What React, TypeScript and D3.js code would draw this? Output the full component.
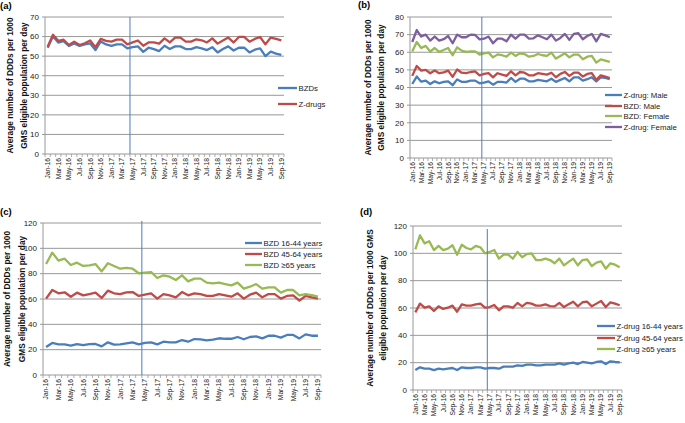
import React from "react";
import * as d3 from "d3";

const months = [
  "Jan-16","Feb-16","Mar-16","Apr-16","May-16","Jun-16","Jul-16","Aug-16","Sep-16","Oct-16","Nov-16","Dec-16",
  "Jan-17","Feb-17","Mar-17","Apr-17","May-17","Jun-17","Jul-17","Aug-17","Sep-17","Oct-17","Nov-17","Dec-17",
  "Jan-18","Feb-18","Mar-18","Apr-18","May-18","Jun-18","Jul-18","Aug-18","Sep-18","Oct-18","Nov-18","Dec-18",
  "Jan-19","Feb-19","Mar-19","Apr-19","May-19","Jun-19","Jul-19","Aug-19","Sep-19",
];
const interventionMonth = "May-17";

// Panel (a)
const aBZDs = [54.3,60.2,56.9,57.7,55.2,56.5,55.2,56.0,56.5,53.1,57.5,56.0,55.2,56.0,56.0,54.0,54.6,55.0,52.2,54.3,53.6,52.6,55.3,53.6,55.0,55.0,53.6,53.6,54.6,54.0,53.1,54.6,51.9,53.6,55.0,52.9,54.3,54.3,51.9,53.3,54.0,50.0,52.3,51.3,50.6];
const aZdrugs = [54.8,60.9,57.8,58.4,55.7,57.4,55.7,56.6,58.0,54.6,58.8,57.8,57.4,58.4,58.4,56.0,57.0,58.0,55.3,57.0,57.0,56.4,59.1,57.0,59.5,59.5,57.4,57.4,58.6,58.1,57.0,59.1,56.4,58.0,59.5,57.0,59.8,59.8,57.4,58.8,59.8,56.0,59.5,58.8,58.1];

// Panel (b)
const bZMale = [42.0,46.2,43.3,43.9,42.0,43.5,42.4,43.2,43.5,41.3,44.6,43.2,43.2,43.9,43.9,42.4,42.8,43.5,41.6,43.2,43.2,42.8,45.4,43.2,45.0,45.0,43.5,43.5,44.3,43.9,43.5,45.0,43.2,44.3,45.4,43.5,45.8,45.8,43.9,44.7,45.8,43.5,45.8,45.4,44.7];
const bBMale = [46.6,52.2,49.6,50.0,48.1,49.6,48.1,48.6,49.6,46.0,50.2,48.4,48.1,48.8,49.2,46.9,47.7,48.1,45.8,48.1,47.3,46.6,49.2,46.9,48.8,48.4,46.9,46.9,48.1,47.7,47.3,48.4,45.8,47.7,48.8,46.6,48.4,48.4,46.2,47.7,48.1,44.3,46.9,46.2,45.4];
const bBFemale = [60.4,65.8,62.4,63.6,60.4,62.4,60.2,61.3,62.4,58.3,62.8,60.9,60.2,60.5,60.5,58.7,59.4,59.8,57.1,58.8,58.3,57.5,59.8,57.9,59.4,59.0,57.5,57.9,59.0,58.3,57.9,59.8,56.4,57.9,59.4,57.1,58.7,58.7,56.0,57.5,57.9,54.1,56.0,55.3,54.5];
const bZFemale = [65.8,72.6,68.9,70.0,66.6,68.9,66.6,67.4,69.2,65.1,70.0,68.5,68.5,70.0,69.8,67.3,67.7,68.9,65.1,67.7,67.7,66.2,70.0,67.7,70.0,70.0,67.7,67.9,69.6,68.5,67.4,70.0,66.6,68.1,70.4,67.0,70.4,70.8,67.4,69.2,70.4,66.2,70.4,69.6,68.5];

// Panel (c)
const cB1644 = [22.1,25.3,24.2,24.2,23.2,24.4,23.5,24.4,24.5,22.6,25.8,24.0,24.2,25.0,25.8,24.2,25.3,25.8,24.2,26.3,25.8,25.8,27.6,26.3,28.4,28.2,27.4,27.9,29.0,28.6,28.6,30.0,28.2,30.0,30.5,28.9,31.0,31.0,29.5,31.6,31.6,28.9,32.1,31.0,31.0];
const cB4564 = [60.3,67.1,64.5,65.3,61.8,65.0,62.9,63.9,65.0,60.8,66.6,64.5,63.9,65.3,65.5,62.4,63.4,64.5,60.3,63.9,62.9,61.3,65.5,62.9,64.5,63.9,62.4,62.4,63.9,62.9,61.8,64.5,60.3,63.4,65.0,61.3,63.9,63.9,60.3,62.4,62.9,58.7,62.4,61.3,60.3];
const cB65 = [87.6,96.6,90.3,91.8,86.8,88.7,86.1,86.6,87.6,81.8,88.2,86.1,83.9,84.5,83.9,80.3,80.8,81.3,76.6,78.7,77.6,75.0,78.7,73.9,76.1,76.1,72.9,72.4,72.9,71.8,70.8,72.9,68.2,69.7,71.8,68.2,69.2,69.2,65.0,67.1,67.1,62.9,63.8,63.0,61.8];

// Panel (d)
const dZ1644 = [14.6,16.6,15.6,15.6,14.6,15.6,15.1,15.6,16.1,14.6,16.6,16.1,16.1,16.6,16.6,15.6,16.1,16.1,15.6,17.1,17.1,17.1,18.0,17.6,18.5,18.5,18.0,18.0,18.5,18.5,18.5,19.5,18.5,19.5,20.0,19.0,20.5,20.0,19.5,20.5,21.0,19.0,21.0,20.5,20.3];
const dZ4564 = [56.8,63.2,60.2,61.2,57.8,61.2,59.3,60.2,61.7,57.3,62.7,61.7,61.7,62.7,63.2,60.2,60.7,62.2,58.3,61.2,61.2,60.2,63.7,61.2,63.7,63.2,61.7,61.7,62.7,61.4,61.2,63.7,60.7,62.7,64.6,61.2,64.2,64.6,61.2,63.2,65.1,60.7,64.1,63.2,62.0];
const dZ65 = [102.9,113.2,107.3,108.8,102.4,105.4,102.4,103.4,105.9,99.0,106.3,103.9,102.9,105.4,104.4,100.0,101.0,102.4,96.1,99.0,99.0,96.1,101.0,97.1,99.5,100.0,95.1,95.1,96.1,95.1,92.7,96.1,91.2,93.7,96.1,91.2,95.1,95.6,90.7,93.2,94.1,88.8,92.7,91.7,89.8];

const BLUE = "#4A7EBB";
const RED = "#BE4B48";
const GREEN = "#98B954";
const PURPLE = "#7D5FA0";

type Series = { name: string; values: number[]; color: string };

type PanelCfg = {
  label: string;
  labelX: number;
  labelY: number;
  left: number;
  right: number;
  top: number;
  bottom: number;
  yMax: number;
  yStep: number;
  vTop: number;
  titleLines: string[];
  titleX: number[];
  series: Series[];
  legendX: number;
  legendY: number[];
  legendLineW: number;
};

const panels: PanelCfg[] = [
  {
    label: "(a)", labelX: 0, labelY: 9,
    left: 45, right: 284, top: 17, bottom: 154, yMax: 70, yStep: 10, vTop: 17,
    titleLines: ["Average number of DDDs per 1000", "GMS eligible population per day"],
    titleX: [10, 24.5],
    series: [
      { name: "BZDs", values: aBZDs, color: BLUE },
      { name: "Z-drugs", values: aZdrugs, color: RED },
    ],
    legendX: 278, legendY: [88, 104], legendLineW: 19,
  },
  {
    label: "(b)", labelX: 358, labelY: 8,
    left: 410, right: 612, top: 17, bottom: 158, yMax: 80, yStep: 10, vTop: 17,
    titleLines: ["Average number of DDDs per 1000", "GMS eligible population per day"],
    titleX: [368, 381],
    series: [
      { name: "Z-drug: Male", values: bZMale, color: BLUE },
      { name: "BZD: Male", values: bBMale, color: RED },
      { name: "BZD: Female", values: bBFemale, color: GREEN },
      { name: "Z-drug: Female", values: bZFemale, color: PURPLE },
    ],
    legendX: 605, legendY: [95, 106, 116, 127], legendLineW: 17,
  },
  {
    label: "(c)", labelX: 0, labelY: 215,
    left: 43, right: 321, top: 223, bottom: 375, yMax: 120, yStep: 20, vTop: 221,
    titleLines: ["Average number of DDDs per 1000", "GMS eligible population per day"],
    titleX: [7, 22],
    series: [
      { name: "BZD 16-44 years", values: cB1644, color: BLUE },
      { name: "BZD 45-64 years", values: cB4564, color: RED },
      { name: "BZD \u226565 years", values: cB65, color: GREEN },
    ],
    legendX: 245, legendY: [243, 254, 265], legendLineW: 17,
  },
  {
    label: "(d)", labelX: 360, labelY: 215,
    left: 413, right: 622, top: 226, bottom: 390, yMax: 120, yStep: 20, vTop: 229,
    titleLines: ["Average number of DDDs per 1000 GMS", "eligible population per day"],
    titleX: [370, 383],
    series: [
      { name: "Z-drug 16-44 years", values: dZ1644, color: BLUE },
      { name: "Z-drug 45-64 years", values: dZ4564, color: RED },
      { name: "Z-drug \u226565 years", values: dZ65, color: GREEN },
    ],
    legendX: 597, legendY: [326, 338, 349], legendLineW: 18,
  },
];

const FONT = "'Liberation Sans', Arial, sans-serif";
const GRID = "#989898";

function Panel({ p }: { p: PanelCfg }) {
  const x = d3.scaleBand<string>().domain(months).range([p.left, p.right]).paddingInner(0).paddingOuter(0);
  const y = d3.scaleLinear().domain([0, p.yMax]).range([p.bottom, p.top]);
  const bw = x.bandwidth();
  const cx = (m: string) => (x(m) as number) + bw / 2;
  const yTicks = d3.range(0, p.yMax + 0.001, p.yStep);
  const line = d3
    .line<number>()
    .x((_, i) => cx(months[i]))
    .y((v) => y(v));
  const vx = x(interventionMonth) as number;
  const midY = (p.top + p.bottom) / 2;
  const boundaries = d3.range(0, months.length + 1).map((i) => p.left + i * bw);

  return (
    <g>
      <text x={p.labelX} y={p.labelY} fontFamily={FONT} fontWeight="bold" fontSize={9.5}>
        {p.label}
      </text>
      {yTicks.map((t) => (
        <g key={t}>
          <line x1={p.left} x2={p.right} y1={y(t)} y2={y(t)} stroke={GRID} strokeWidth={1} />
          <line x1={p.left - 3} x2={p.left} y1={y(t)} y2={y(t)} stroke={GRID} strokeWidth={1} />
          <text
            x={p.left - 6}
            y={y(t)}
            dy="0.35em"
            textAnchor="end"
            fontFamily={FONT}
            fontSize={8}
            fill="#222"
          >
            {t}
          </text>
        </g>
      ))}
      <line x1={p.left} x2={p.left} y1={p.top} y2={p.bottom} stroke={GRID} strokeWidth={1} />
      {boundaries.map((bx, i) => (
        <line key={i} x1={bx} x2={bx} y1={p.bottom} y2={p.bottom + 3} stroke={GRID} strokeWidth={0.8} />
      ))}
      {months.map((m, i) =>
        i % 2 === 0 ? (
          <text
            key={m}
            transform={`translate(${cx(m)},${p.bottom + 4}) rotate(-90)`}
            textAnchor="end"
            dy="0.35em"
            fontFamily={FONT}
            fontSize={6.7}
            fill="#222"
          >
            {m}
          </text>
        ) : null
      )}
      {p.titleLines.map((t, i) => (
        <text
          key={i}
          transform={`translate(${p.titleX[i]},${midY}) rotate(-90)`}
          textAnchor="middle"
          dy="0.35em"
          fontFamily={FONT}
          fontWeight="bold"
          fontSize={8.3}
          fill="#111"
        >
          {t}
        </text>
      ))}
      {p.series.map((s) => (
        <path
          key={s.name}
          d={line(s.values) || ""}
          fill="none"
          stroke={s.color}
          strokeWidth={2.3}
          strokeLinejoin="round"
        />
      ))}
      <line x1={vx} x2={vx} y1={p.vTop} y2={p.bottom} stroke="#4A7EBB" strokeWidth={1} />
      {p.series.map((s, i) => (
        <g key={s.name}>
          <line
            x1={p.legendX}
            x2={p.legendX + p.legendLineW}
            y1={p.legendY[i]}
            y2={p.legendY[i]}
            stroke={s.color}
            strokeWidth={2.3}
          />
          <text
            x={p.legendX + p.legendLineW + 1.5}
            y={p.legendY[i]}
            dy="0.35em"
            fontFamily={FONT}
            fontSize={7.8}
            fill="#222"
          >
            {s.name}
          </text>
        </g>
      ))}
    </g>
  );
}

export default function App() {
  return (
    <svg
      width={685}
      height={423}
      style={{ position: "absolute", left: 0, top: 0, background: "#fff" }}
    >
      <rect x={0} y={0} width={685} height={423} fill="#fff" />
      {panels.map((p) => (
        <Panel key={p.label} p={p} />
      ))}
    </svg>
  );
}
